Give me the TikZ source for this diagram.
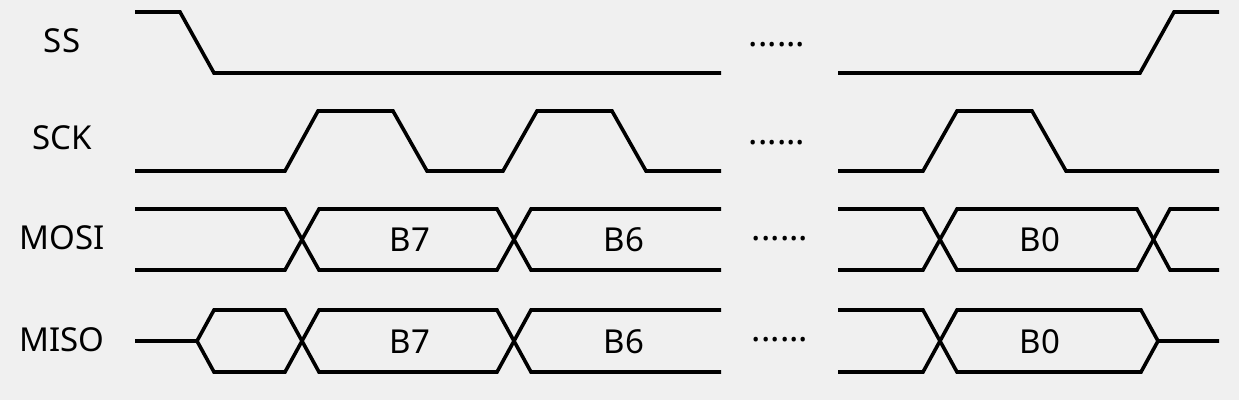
\documentclass[tikz,border=0pt]{standalone}
\usepackage{fontspec}
\setmainfont{Noto Sans}
\definecolor{bg}{HTML}{F0F0F0}
\tikzset{
  wave/.style={line width=3.6pt, line join=miter, line cap=butt, black},
  siglabel/.style={font=\fontsize{33}{38}\selectfont, inner sep=0pt, anchor=center},
  bitlabel/.style={font=\fontsize{33}{38}\selectfont, inner sep=0pt, anchor=center},
  dots/.style={font=\fontsize{35}{40}\selectfont, inner sep=0pt, anchor=base},
}
\begin{document}
\begin{tikzpicture}[x=1pt,y=-1pt]
\fill[bg] (0,0) rectangle (1239,400);
\useasboundingbox (0,0) rectangle (1239,400);

% labels
\node[siglabel] (lss) at (62,41) {SS};
\node[siglabel] (lsck) at (62,138) {SCK};
\node[siglabel] (lmosi) at (62,238) {MOSI};
\node[siglabel] (lmiso) at (62,340) {MISO};

% SS
\draw[wave] (135,12) -- (180,12) -- (214,73) -- (721,73);
\draw[wave] (838,73) -- (1140,73) -- (1174,12) -- (1219,12);

% SCK
\draw[wave] (135,171) -- (285,171) -- (318,111) -- (393,111) -- (427,171) -- (503,171)
  -- (537,111) -- (612,111) -- (646,171) -- (721,171);
\draw[wave] (838,171) -- (923,171) -- (957,111) -- (1032,111) -- (1066,171) -- (1219,171);

% MOSI (top 209, bottom 270)
\draw[wave] (135,209) -- (285,209) -- (319,270) -- (497,270) -- (531,209) -- (721,209);
\draw[wave] (135,270) -- (285,270) -- (319,209) -- (497,209) -- (531,270) -- (721,270);
\draw[wave] (838,209) -- (923,209) -- (957,270) -- (1137,270) -- (1170,209) -- (1219,209);
\draw[wave] (838,270) -- (923,270) -- (957,209) -- (1137,209) -- (1170,270) -- (1219,270);
\node[bitlabel] (m7) at (410,240) {B7};
\node[bitlabel] (m6) at (624,240) {B6};
\node[bitlabel] (m0) at (1040,240) {B0};

% MISO (top 310, mid 341, bottom 372)
\draw[wave] (135,341) -- (197,341) -- (214,310) -- (285,310) -- (319,372) -- (497,372) -- (531,310) -- (721,310);
\draw[wave] (197,341) -- (214,372) -- (285,372) -- (319,310) -- (497,310) -- (531,372) -- (721,372);
\draw[wave] (838,310) -- (923,310) -- (957,372) -- (1141,372) -- (1158,341) -- (1219,341);
\draw[wave] (838,372) -- (923,372) -- (957,310) -- (1141,310) -- (1158,341);
\node[bitlabel] (s7) at (410,342) {B7};
\node[bitlabel] (s6) at (624,342) {B6};
\node[bitlabel] (s0) at (1040,342) {B0};

% dots
\node[dots] (d1) at (777,46) {......};
\node[dots] (d2) at (777,144) {......};
\node[dots] (d3) at (780,240) {......};
\node[dots] (d4) at (780,341) {......};
\end{tikzpicture}
\end{document}
